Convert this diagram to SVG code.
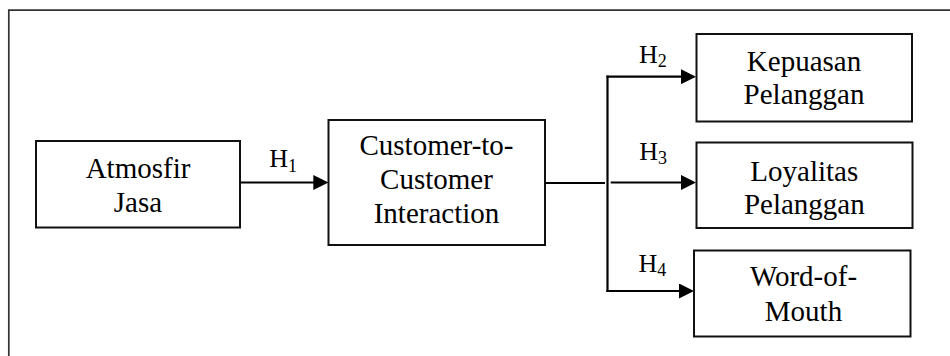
<svg xmlns="http://www.w3.org/2000/svg" width="950" height="356" viewBox="0 0 950 356">
  <style>
    .box { fill: #ffffff; stroke: #111111; stroke-width: 2; }
    .lbl { font-family: "Liberation Serif", "Times New Roman", serif; font-size: 29px; fill: #000000; text-anchor: middle; }
    .h { font-family: "Liberation Serif", "Times New Roman", serif; font-size: 26px; fill: #000000; }
    .sub { font-size: 18px; }
    .conn { fill: none; stroke: #000000; stroke-width: 2.2; }
    .frame { fill: none; stroke: #333333; stroke-width: 1.7; }
  </style>
  <defs>
    <marker id="arrow" viewBox="0 0 15 15" refX="1" refY="7.5" markerWidth="15" markerHeight="15" markerUnits="userSpaceOnUse" orient="auto">
      <path d="M0,0 L15,7.5 L0,15 Z" fill="#000000"/>
    </marker>
  </defs>
  <rect width="950" height="356" fill="#ffffff"/>
  <path class="frame" d="M8.8,356 L8.8,10.2 L950,10.2"/>

  <g id="node-atmosfir">
    <rect class="box" x="36" y="141" width="204" height="86.5"/>
    <text class="lbl" x="138" y="178.3">Atmosfir</text>
    <text class="lbl" x="138" y="211.7">Jasa</text>
  </g>

  <g id="node-c2c">
    <rect class="box" x="328.5" y="120" width="216.5" height="125"/>
    <text class="lbl" x="436.5" y="155.3">Customer-to-</text>
    <text class="lbl" x="436.5" y="189">Customer</text>
    <text class="lbl" x="436.5" y="223">Interaction</text>
  </g>

  <g id="node-kepuasan">
    <rect class="box" x="696.5" y="34" width="215.5" height="87.5"/>
    <text class="lbl" x="804" y="71">Kepuasan</text>
    <text class="lbl" x="804" y="104.3">Pelanggan</text>
  </g>

  <g id="node-loyalitas">
    <rect class="box" x="696.5" y="142.5" width="216" height="85.5"/>
    <text class="lbl" x="804.3" y="180.7">Loyalitas</text>
    <text class="lbl" x="804.3" y="213.5">Pelanggan</text>
  </g>

  <g id="node-wom">
    <rect class="box" x="694" y="250.5" width="216.5" height="86"/>
    <text class="lbl" x="803.5" y="285.7">Word-of-</text>
    <text class="lbl" x="803.5" y="321">Mouth</text>
  </g>

  <g id="connectors">
    <path class="conn" d="M240,182.5 L314.3,182.5" marker-end="url(#arrow)"/>
    <path class="conn" d="M545,183 L605,183"/>
    <path class="conn" d="M607.5,75.6 L607.5,292"/>
    <path class="conn" d="M606.4,76.7 L682,76.7" marker-end="url(#arrow)"/>
    <path class="conn" d="M610.7,182.5 L682,182.5" marker-end="url(#arrow)"/>
    <path class="conn" d="M606.4,291 L680,291" marker-end="url(#arrow)"/>
    <text class="h" x="269.3" y="167.3">H<tspan class="sub" dy="5">1</tspan></text>
    <text class="h" x="639" y="63.3">H<tspan class="sub" dy="4">2</tspan></text>
    <text class="h" x="639.3" y="160">H<tspan class="sub" dy="4">3</tspan></text>
    <text class="h" x="638.5" y="271.7">H<tspan class="sub" dy="4">4</tspan></text>
  </g>
</svg>
